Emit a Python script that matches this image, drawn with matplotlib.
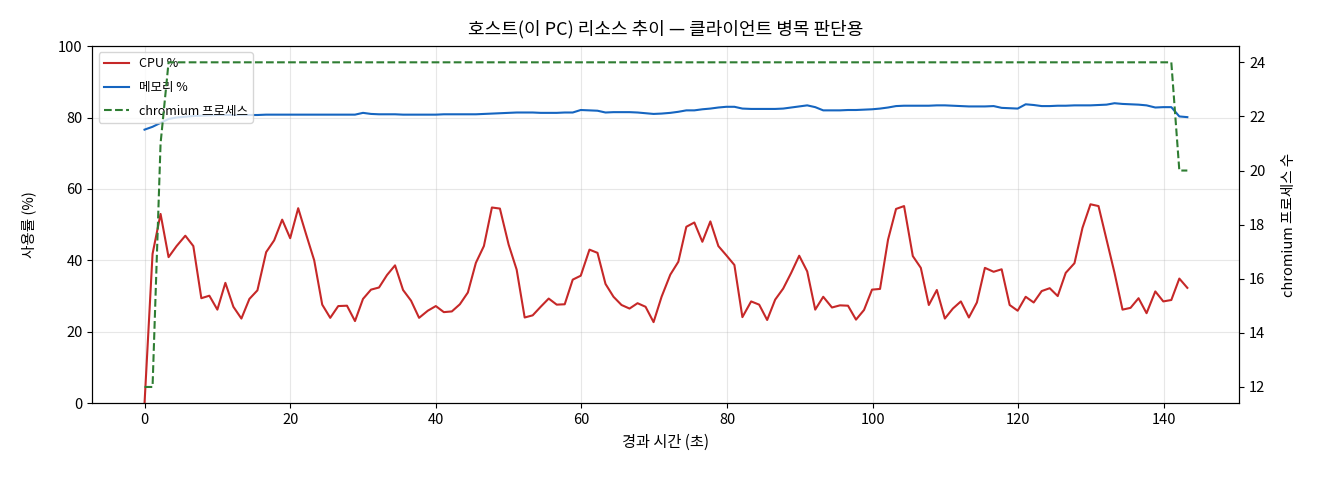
import matplotlib
matplotlib.use("Agg")
import matplotlib.pyplot as plt

plt.rcParams['font.family'] = ['Noto Sans CJK KR', 'DejaVu Sans']
plt.rcParams['axes.unicode_minus'] = False

# 경과 시간 (초)
elapsed = [
    0.0, 1.1, 2.2, 3.3, 4.4, 5.6, 6.7, 7.8, 8.9, 10.0,
    11.1, 12.2, 13.3, 14.4, 15.5, 16.7, 17.8, 18.9, 20.0, 21.1,
    22.2, 23.3, 24.4, 25.5, 26.6, 27.8, 28.9, 30.0, 31.1, 32.2,
    33.3, 34.4, 35.5, 36.6, 37.7, 38.9, 40.0, 41.1, 42.2, 43.3,
    44.4, 45.5, 46.6, 47.7, 48.8, 50.0, 51.1, 52.2, 53.3, 54.4,
    55.5, 56.6, 57.7, 58.8, 59.9, 61.1, 62.2, 63.3, 64.4, 65.5,
    66.6, 67.7, 68.8, 69.9, 71.0, 72.2, 73.3, 74.4, 75.5, 76.6,
    77.7, 78.8, 79.9, 81.0, 82.1, 83.3, 84.4, 85.5, 86.6, 87.7,
    88.8, 89.9, 91.0, 92.1, 93.2, 94.4, 95.5, 96.6, 97.7, 98.8,
    99.9, 101.0, 102.1, 103.2, 104.3, 105.5, 106.6, 107.7, 108.8, 109.9,
    111.0, 112.1, 113.2, 114.3, 115.4, 116.6, 117.7, 118.8, 119.9, 121.0,
    122.1, 123.2, 124.3, 125.4, 126.5, 127.7, 128.8, 129.9, 131.0, 132.1,
    133.2, 134.3, 135.4, 136.5, 137.6, 138.8, 139.9, 141.0, 142.1, 143.2,
]

cpu = [
    0.0, 41.8, 53.0, 40.9, 44.0, 46.9, 44.0, 29.4, 30.1, 26.2,
    33.7, 27.0, 23.7, 29.2, 31.6, 42.3, 45.6, 51.4, 46.2, 54.6,
    47.2, 40.0, 27.6, 23.9, 27.2, 27.3, 23.0, 29.2, 31.8, 32.4,
    35.9, 38.6, 31.7, 28.7, 23.9, 25.9, 27.2, 25.5, 25.7, 27.7,
    31.0, 39.3, 44.0, 54.8, 54.5, 44.4, 37.4, 24.0, 24.6, 27.0,
    29.3, 27.6, 27.7, 34.6, 35.7, 43.0, 42.1, 33.4, 29.8, 27.5,
    26.5, 28.0, 27.0, 22.7, 29.8, 36.0, 39.6, 49.4, 50.6, 45.2,
    50.9, 44.0, 41.4, 38.7, 24.1, 28.5, 27.6, 23.3, 29.0, 32.1,
    36.5, 41.3, 36.9, 26.2, 29.8, 26.8, 27.4, 27.3, 23.4, 26.1,
    31.8, 32.0, 45.8, 54.4, 55.2, 41.2, 37.9, 27.5, 31.7, 23.7,
    26.5, 28.5, 24.0, 28.2, 37.9, 36.8, 37.5, 27.5, 25.9, 29.8,
    28.2, 31.4, 32.2, 30.0, 36.5, 39.2, 49.1, 55.7, 55.2, 45.8,
    36.5, 26.2, 26.7, 29.4, 25.2, 31.3, 28.5, 28.9, 34.9, 32.3,
]

memory = [
    76.6, 77.4, 78.5, 79.6, 80.0, 80.2, 80.4, 80.5, 80.6, 80.7,
    80.7, 80.7, 80.7, 80.7, 80.7, 80.8, 80.8, 80.8, 80.8, 80.8,
    80.8, 80.8, 80.8, 80.8, 80.8, 80.8, 80.8, 81.3, 81.0, 80.9,
    80.9, 80.9, 80.8, 80.8, 80.8, 80.8, 80.8, 80.9, 80.9, 80.9,
    80.9, 80.9, 81.0, 81.1, 81.2, 81.3, 81.4, 81.4, 81.4, 81.3,
    81.3, 81.3, 81.4, 81.4, 82.1, 82.0, 81.9, 81.4, 81.5, 81.5,
    81.5, 81.4, 81.2, 81.0, 81.1, 81.3, 81.6, 82.0, 82.0, 82.3,
    82.5, 82.8, 83.0, 83.0, 82.5, 82.4, 82.4, 82.4, 82.4, 82.5,
    82.8, 83.1, 83.4, 82.9, 82.0, 82.0, 82.0, 82.1, 82.1, 82.2,
    82.3, 82.5, 82.8, 83.2, 83.3, 83.3, 83.3, 83.3, 83.4, 83.4,
    83.3, 83.2, 83.1, 83.1, 83.1, 83.2, 82.7, 82.6, 82.5, 83.7,
    83.5, 83.2, 83.2, 83.3, 83.3, 83.4, 83.4, 83.4, 83.5, 83.6,
    84.0, 83.8, 83.7, 83.6, 83.4, 82.8, 82.9, 82.9, 80.3, 80.1,
]

chromium = [
    12, 12, 21, 24, 24, 24, 24, 24, 24, 24,
    24, 24, 24, 24, 24, 24, 24, 24, 24, 24,
    24, 24, 24, 24, 24, 24, 24, 24, 24, 24,
    24, 24, 24, 24, 24, 24, 24, 24, 24, 24,
    24, 24, 24, 24, 24, 24, 24, 24, 24, 24,
    24, 24, 24, 24, 24, 24, 24, 24, 24, 24,
    24, 24, 24, 24, 24, 24, 24, 24, 24, 24,
    24, 24, 24, 24, 24, 24, 24, 24, 24, 24,
    24, 24, 24, 24, 24, 24, 24, 24, 24, 24,
    24, 24, 24, 24, 24, 24, 24, 24, 24, 24,
    24, 24, 24, 24, 24, 24, 24, 24, 24, 24,
    24, 24, 24, 24, 24, 24, 24, 24, 24, 24,
    24, 24, 24, 24, 24, 24, 24, 24, 20, 20,
]

fig, ax = plt.subplots(figsize=(13.2, 4.8), dpi=100)
fig.subplots_adjust(left=0.070, right=0.939, top=0.904, bottom=0.160)

l_cpu, = ax.plot(elapsed, cpu, color='#c62828', linewidth=1.5, label='CPU %')
l_mem, = ax.plot(elapsed, memory, color='#1565c0', linewidth=1.5, label='메모리 %')
ax.set_ylim(0, 100)
ax.set_xlabel('경과 시간 (초)', fontsize=11, labelpad=5)
ax.set_ylabel('사용률 (%)', fontsize=10.5, labelpad=16)
ax.tick_params(labelsize=10.5)
ax.grid(True, alpha=0.3)

ax2 = ax.twinx()
l_chr, = ax2.plot(elapsed, chromium, color='#2e7d32', linestyle='--',
                  linewidth=1.5, label='chromium 프로세스')
ax2.set_ylabel('chromium 프로세스 수', fontsize=10.5, labelpad=12)
ax2.tick_params(labelsize=10.5)

ax.legend(handles=[l_cpu, l_mem, l_chr], loc='upper left', fontsize=9,
          labelspacing=0.85)
ax.set_title('호스트(이 PC) 리소스 추이 — 클라이언트 병목 판단용', fontsize=13, pad=8)

plt.savefig('out.png', dpi=100)
